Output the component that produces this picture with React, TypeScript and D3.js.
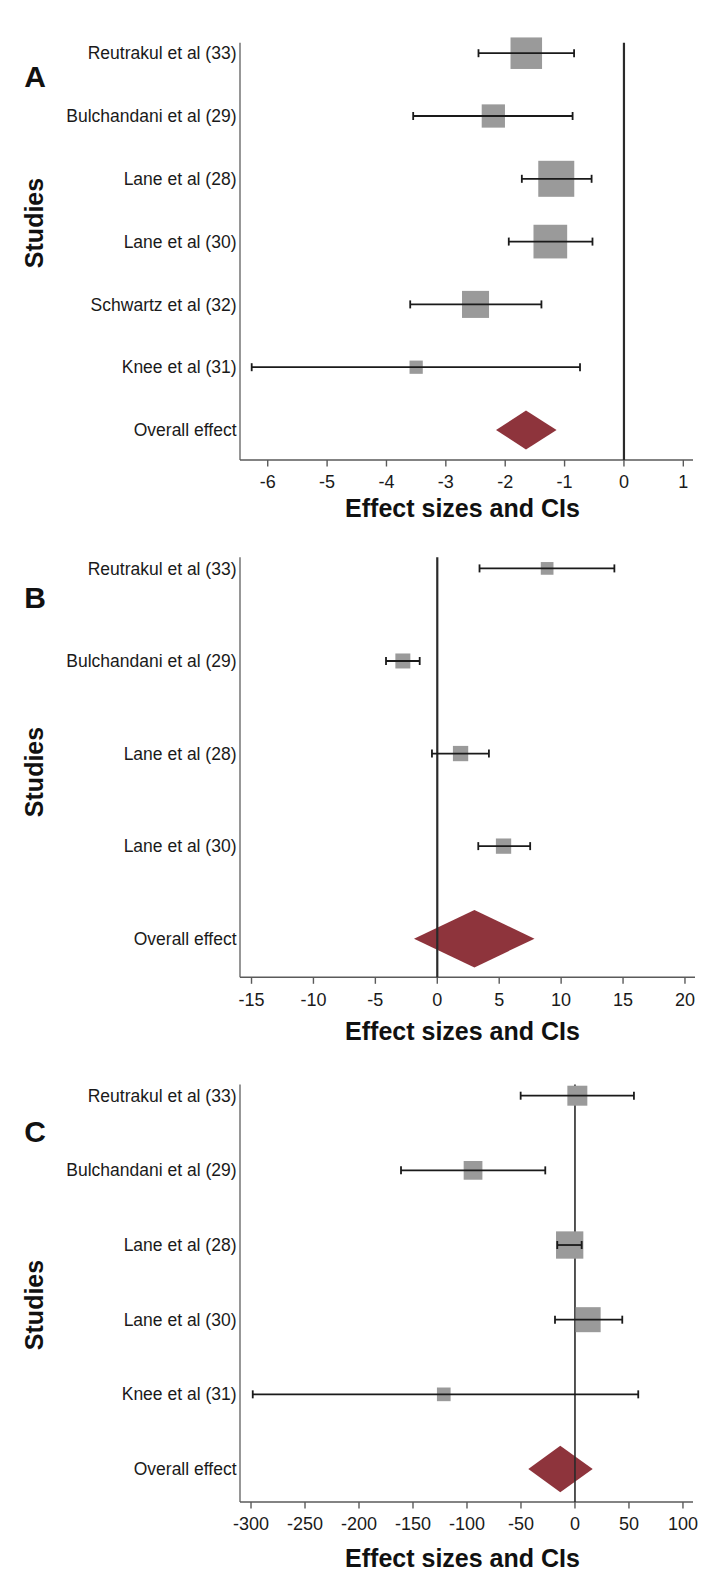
import React from "react";
import * as d3 from "d3";

// ---------- Data ----------
const studiesA = ["Reutrakul et al (33)", "Bulchandani et al (29)", "Lane et al (28)", "Lane et al (30)", "Schwartz et al (32)", "Knee et al (31)"];
const effectA = [-1.645, -2.2, -1.14, -1.24, -2.5, -3.5];
const lowerA = [-2.45, -3.55, -1.72, -1.94, -3.6, -6.27];
const upperA = [-0.84, -0.865, -0.545, -0.53, -1.39, -0.74];
const weightA = [20.4, 11.1, 26.6, 23.3, 15.0, 3.6];
const overallA = { effect: -1.65, lower: -2.155, upper: -1.135 };
const ticksA = [-6, -5, -4, -3, -2, -1, 0, 1];

const studiesB = ["Reutrakul et al (33)", "Bulchandani et al (29)", "Lane et al (28)", "Lane et al (30)"];
const effectB = [8.87, -2.78, 1.88, 5.35];
const lowerB = [3.41, -4.14, -0.43, 3.31];
const upperB = [14.3, -1.42, 4.17, 7.5];
const weightB = [18.9, 26.3, 27.4, 27.4];
const overallB = { effect: 3.0, lower: -1.88, upper: 7.85 };
const ticksB = [-15, -10, -5, 0, 5, 10, 15, 20];

const studiesC = ["Reutrakul et al (33)", "Bulchandani et al (29)", "Lane et al (28)", "Lane et al (30)", "Knee et al (31)"];
const effectC = [2.2, -94.4, -4.9, 12.2, -121.5];
const lowerC = [-50.3, -161.1, -16.4, -18.5, -298.4];
const upperC = [54.6, -27.5, 6.2, 43.8, 58.6];
const weightC = [17.3, 15.2, 32.3, 27.1, 8.1];
const overallC = { effect: -13.6, lower: -43.2, upper: 16.4 };
const ticksC = [-300, -250, -200, -150, -100, -50, 0, 50, 100];

const overallLabel = "Overall effect";
const xTitle = "Effect sizes and CIs";
const yTitle = "Studies";

// ---------- Layout ----------
const FONT = "'Liberation Sans', Arial, Helvetica, sans-serif";
const BOX = "#9a9a9a";
const DIAMOND = "#8e343c";

const panels = [
  {
    letter: "A", studies: studiesA, effect: effectA, lower: lowerA, upper: upperA, weight: weightA, overall: overallA, ticks: ticksA,
    domain: [-6.467, 1.163], left: 240, right: 693, top: 42.7, axisY: 460, rowFirst: 53.2, rowLast: 430,
    maxBox: 36, letterY: 87, studiesY: 223, titleY: 508.5, zeroW: 2.2,
  },
  {
    letter: "B", studies: studiesB, effect: effectB, lower: lowerB, upper: upperB, weight: weightB, overall: overallB, ticks: ticksB,
    domain: [-15.93, 20.81], left: 240, right: 695, top: 557.3, axisY: 977.3, rowFirst: 568.4, rowLast: 938.7,
    maxBox: 15.3, letterY: 607.5, studiesY: 772, titleY: 1031.7, zeroW: 2.2,
  },
  {
    letter: "C", studies: studiesC, effect: effectC, lower: lowerC, upper: upperC, weight: weightC, overall: overallC, ticks: ticksC,
    domain: [-310.2, 109.3], left: 240, right: 693, top: 1084.4, axisY: 1502, rowFirst: 1095.7, rowLast: 1469,
    maxBox: 27.3, letterY: 1142, studiesY: 1305, titleY: 1558, zeroW: 1.6,
  },
];

function Panel({ p }: { p: any }) {
  const x = d3.scaleLinear().domain(p.domain).range([p.left, p.right]);
  const rows = [...p.studies, overallLabel];
  const y = d3.scalePoint<string>().domain(rows).range([p.rowFirst, p.rowLast]);
  const step = y.step();
  const size = d3.scaleSqrt().domain([0, d3.max(p.weight as number[]) as number]).range([0, p.maxBox]);
  const yo = y(overallLabel) as number;
  const dH = step * 0.31;
  const diamond =
    (d3.line()([
      [x(p.overall.lower), yo],
      [x(p.overall.effect), yo - dH],
      [x(p.overall.upper), yo],
      [x(p.overall.effect), yo + dH],
    ]) as string) + "Z";
  const capH = 4;
  const titleX = 462.5;

  return (
    <g>
      {/* panel letter */}
      <text x={35} y={p.letterY} textAnchor="middle" fontFamily={FONT} fontWeight="bold" fontSize={30} fill="#111">
        {p.letter}
      </text>
      {/* y title */}
      <text
        transform={`translate(34,${p.studiesY}) rotate(-90)`}
        textAnchor="middle"
        dominantBaseline="central"
        fontFamily={FONT}
        fontWeight="bold"
        fontSize={25}
        fill="#111"
      >
        {yTitle}
      </text>
      {/* row labels */}
      {rows.map((r) => (
        <text key={r} x={p.left - 3.5} y={y(r) as number} dy="0.35em" textAnchor="end" fontFamily={FONT} fontSize={17.5} fill="#1a1a1a">
          {r}
        </text>
      ))}
      {/* axes */}
      <line x1={p.left} x2={p.left} y1={p.top} y2={p.axisY} stroke="#6a6a6a" strokeWidth={1.4} />
      <line x1={p.left} x2={p.right} y1={p.axisY} y2={p.axisY} stroke="#5a5a5a" strokeWidth={1.5} />
      {p.ticks.map((t: number) => (
        <g key={t}>
          <line x1={x(t)} x2={x(t)} y1={p.axisY} y2={p.axisY + 6.5} stroke="#5a5a5a" strokeWidth={1.4} />
          <text x={x(t)} y={p.axisY + 22} dy="0.35em" textAnchor="middle" fontFamily={FONT} fontSize={18} fill="#1a1a1a">
            {String(t)}
          </text>
        </g>
      ))}
      <text x={titleX} y={p.titleY} dy="0.35em" textAnchor="middle" fontFamily={FONT} fontWeight="bold" fontSize={25} fill="#111">
        {xTitle}
      </text>
      {/* overall diamond */}
      <path d={diamond} fill={DIAMOND} />
      {/* zero line */}
      <line x1={x(0)} x2={x(0)} y1={p.top} y2={p.axisY} stroke="#2a2a2a" strokeWidth={p.zeroW} />
      {/* study boxes */}
      {p.studies.map((s: string, i: number) => {
        const w = size(p.weight[i]);
        return <rect key={"b" + s} x={x(p.effect[i]) - w / 2} y={(y(s) as number) - w / 2} width={w} height={w} fill={BOX} />;
      })}
      {/* CIs */}
      {p.studies.map((s: string, i: number) => {
        const yy = y(s) as number;
        return (
          <g key={"c" + s} stroke="#1a1a1a" strokeWidth={1.8}>
            <line x1={x(p.lower[i])} x2={x(p.upper[i])} y1={yy} y2={yy} />
            <line x1={x(p.lower[i])} x2={x(p.lower[i])} y1={yy - capH} y2={yy + capH} />
            <line x1={x(p.upper[i])} x2={x(p.upper[i])} y1={yy - capH} y2={yy + capH} />
          </g>
        );
      })}
    </g>
  );
}

export default function App() {
  return (
    <svg
      width={724}
      height={1591}
      viewBox="0 0 724 1591"
      style={{ position: "absolute", left: 0, top: 0, display: "block", background: "#fff" }}
    >
      <rect x={0} y={0} width={724} height={1591} fill="#fff" />
      {panels.map((p) => (
        <Panel key={p.letter} p={p} />
      ))}
    </svg>
  );
}
